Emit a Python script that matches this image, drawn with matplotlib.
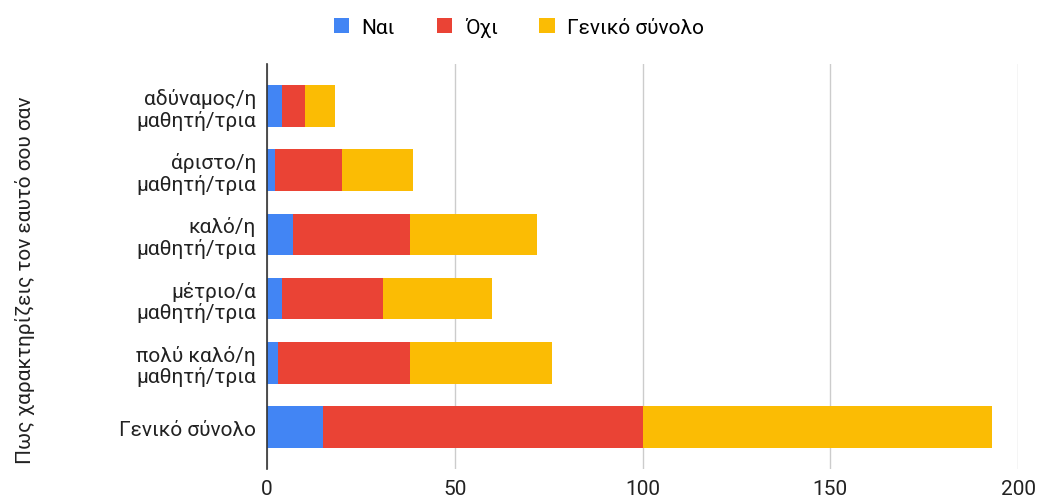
import matplotlib
matplotlib.use("Agg")
import matplotlib.pyplot as plt
from matplotlib.patches import Patch

plt.rcParams['font.family'] = ['Roboto', 'DejaVu Sans']

categories = [
    "αδύναμος/η\nμαθητή/τρια",
    "άριστο/η\nμαθητή/τρια",
    "καλό/η\nμαθητή/τρια",
    "μέτριο/α\nμαθητή/τρια",
    "πολύ καλό/η\nμαθητή/τρια",
    "Γενικό σύνολο",
]
nai = [4, 2, 7, 4, 3, 15]
ochi = [6, 18, 31, 27, 35, 85]
synolo = [8, 19, 34, 29, 38, 93]

series_names = ["Ναι", "Όχι", "Γενικό σύνολο"]
colors = ["#4285F4", "#EA4335", "#FBBC04"]
xticks = [0, 50, 100, 150, 200]
ylabel = "Πως χαρακτηρίζεις τον εαυτό σου σαν"

FS = 15
fig = plt.figure(figsize=(10.38, 5.02), dpi=100)
ax = fig.add_axes([267 / 1038, 1 - 470 / 502, (1018 - 267) / 1038, (470 - 65) / 502])

y = list(range(len(categories)))
h = 0.65
left = [0] * len(categories)
for vals, col in zip([nai, ochi, synolo], colors):
    ax.barh(y, vals, left=left, height=h, color=col, edgecolor="none", zorder=3)
    left = [a + b for a, b in zip(left, vals)]

ax.set_xlim(0, 200)
ax.set_ylim(len(categories) - 1 + 0.654, -0.654)
ax.set_xticks(xticks)
ax.set_xticklabels([str(t) for t in xticks], fontsize=FS, color="#222222")
ax.set_yticks(y)
ax.set_yticklabels(categories, fontsize=FS, color="#222222", linespacing=1.1)
ax.tick_params(axis="both", length=0)
ax.tick_params(axis="x", pad=7)
ax.tick_params(axis="y", pad=8)
ax.grid(axis="x", color="#cccccc", linewidth=1, zorder=0)
ax.grid(axis="y", visible=False)
for s in ["top", "right", "bottom"]:
    ax.spines[s].set_visible(False)
ax.spines["left"].set_color("#333333")
ax.spines["left"].set_linewidth(1.2)
ax.spines["left"].set_zorder(4)

fig.text(25 / 1038, 1 - 280 / 502, ylabel, rotation=90, ha="center", va="center",
         fontsize=FS, color="#222222")

handles = [Patch(facecolor=c, edgecolor="none") for c in colors]
fig.legend(handles, series_names, loc="center", bbox_to_anchor=(0.5, 1 - 28 / 502),
           ncol=3, frameon=False, fontsize=FS, handlelength=0.75, handleheight=0.75,
           handletextpad=0.6, columnspacing=2.0)

fig.savefig("out.png", dpi=100)
